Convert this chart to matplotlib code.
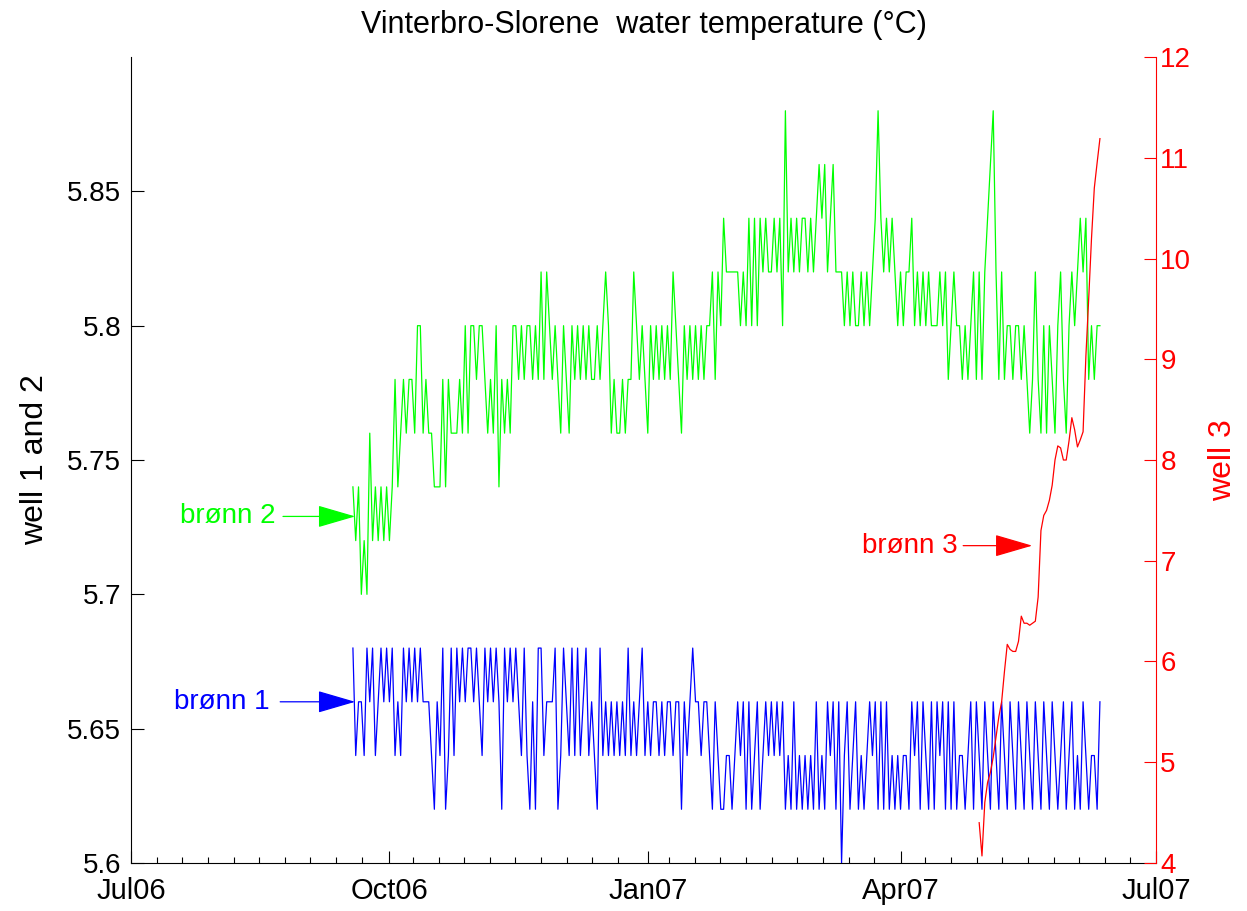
import numpy as np
import matplotlib.pyplot as plt
import matplotlib.dates as mdates

plt.rcParams['font.family'] = ['Liberation Sans', 'DejaVu Sans']

# daily readings, wells 1 and 2 start 18 Sep 2006
start12 = np.datetime64('2006-09-18')
well2 = [5.74, 5.72, 5.74, 5.70, 5.72, 5.70, 5.76, 5.72, 5.74, 5.72, 5.74, 5.72, 5.74, 5.72, 5.74,
         5.78, 5.74, 5.76,
         5.78, 5.76, 5.78, 5.78, 5.76, 5.80, 5.80, 5.76, 5.78, 5.76, 5.76,
         5.74, 5.74, 5.74, 5.78, 5.74, 5.78, 5.76, 5.76, 5.76,
         5.78, 5.76, 5.80, 5.76, 5.80, 5.80, 5.78, 5.80, 5.80, 5.78,
         5.76, 5.78, 5.76, 5.80, 5.74, 5.78, 5.76, 5.78, 5.76,
         5.80, 5.80, 5.78, 5.80, 5.78, 5.80, 5.80, 5.78, 5.80, 5.78,
         5.82, 5.78, 5.82,
         5.80, 5.78, 5.80, 5.78, 5.76, 5.80, 5.78, 5.76, 5.80, 5.78,
         5.80, 5.78, 5.80, 5.78, 5.80, 5.78, 5.78, 5.80, 5.78, 5.80,
         5.82, 5.80, 5.76, 5.78, 5.76, 5.76, 5.78, 5.76, 5.78, 5.78, 5.82,
         5.80, 5.78, 5.80, 5.78, 5.76, 5.80, 5.78, 5.80, 5.78, 5.80, 5.78, 5.80, 5.78, 5.82,
         5.80, 5.78, 5.76, 5.80, 5.78, 5.80, 5.78, 5.80, 5.78, 5.80, 5.78, 5.80, 5.80,
         5.82, 5.78, 5.82, 5.80, 5.84, 5.82, 5.82, 5.82, 5.82, 5.82,
         5.80, 5.82, 5.80, 5.84, 5.80, 5.84, 5.80, 5.84, 5.82, 5.84,
         5.82, 5.82, 5.84, 5.82, 5.84, 5.80, 5.88, 5.82,
         5.84, 5.82, 5.84, 5.82, 5.84, 5.84, 5.82, 5.84, 5.82, 5.84,
         5.86, 5.84, 5.86, 5.82, 5.84, 5.86, 5.82, 5.82, 5.82,
         5.80, 5.82, 5.80, 5.82, 5.80, 5.80, 5.82, 5.80, 5.82, 5.80, 5.82,
         5.84, 5.88, 5.84, 5.82, 5.84, 5.82, 5.84, 5.82,
         5.80, 5.82, 5.80, 5.82, 5.82, 5.84, 5.80, 5.82, 5.80, 5.82, 5.80, 5.82, 5.80, 5.80, 5.80, 5.82,
         5.80, 5.82, 5.78, 5.80, 5.82, 5.80, 5.80,
         5.78, 5.80, 5.78, 5.80, 5.82, 5.78, 5.82, 5.78, 5.82,
         5.84, 5.86, 5.88, 5.82, 5.78, 5.82, 5.78,
         5.80, 5.80, 5.78, 5.80, 5.80, 5.78, 5.80, 5.78, 5.76,
         5.78, 5.82, 5.78, 5.76, 5.80, 5.76, 5.80, 5.78, 5.76, 5.80, 5.82, 5.78, 5.76,
         5.80, 5.82, 5.80, 5.82, 5.84, 5.82, 5.84,
         5.78, 5.80, 5.78, 5.80, 5.80]

well1 = [5.68, 5.64, 5.66, 5.66, 5.64, 5.68, 5.66, 5.68, 5.64,
         5.66, 5.68, 5.66, 5.68, 5.66, 5.68, 5.64, 5.66, 5.64,
         5.68, 5.66, 5.68, 5.66, 5.68, 5.66, 5.68, 5.66, 5.66, 5.66,
         5.64, 5.62, 5.66, 5.64, 5.68, 5.62, 5.64, 5.68, 5.64, 5.68,
         5.66, 5.68, 5.66, 5.68, 5.68, 5.66, 5.68, 5.66, 5.64,
         5.68, 5.66, 5.68, 5.66, 5.68, 5.66, 5.62, 5.68, 5.66, 5.68, 5.66, 5.68, 5.66,
         5.64, 5.68, 5.64, 5.62, 5.66, 5.62, 5.68, 5.68, 5.64, 5.66, 5.66, 5.66,
         5.68, 5.62, 5.64, 5.68, 5.66, 5.64, 5.68, 5.64, 5.68, 5.64,
         5.66, 5.68, 5.64, 5.66, 5.64, 5.62, 5.68, 5.64, 5.66,
         5.64, 5.66, 5.64, 5.66, 5.64, 5.66, 5.64, 5.68, 5.64, 5.66,
         5.64, 5.66, 5.68, 5.64, 5.66, 5.64, 5.66, 5.66, 5.64, 5.66,
         5.64, 5.66, 5.66, 5.64, 5.66, 5.66, 5.62, 5.66, 5.64, 5.66,
         5.68, 5.66, 5.66, 5.64, 5.66, 5.66, 5.64, 5.62, 5.66, 5.64,
         5.62, 5.62, 5.64, 5.64, 5.62, 5.64, 5.66, 5.64,
         5.66, 5.62, 5.66, 5.62, 5.64, 5.66, 5.62, 5.64, 5.66, 5.64,
         5.66, 5.64, 5.66, 5.64, 5.66,
         5.62, 5.64, 5.62, 5.66, 5.62, 5.64, 5.62, 5.64, 5.62, 5.64, 5.62,
         5.66, 5.62, 5.64, 5.62, 5.66, 5.64, 5.66, 5.62, 5.66, 5.60,
         5.64, 5.66, 5.62, 5.64, 5.66, 5.62, 5.64, 5.62, 5.64, 5.66, 5.64,
         5.66, 5.62, 5.66, 5.62, 5.66, 5.62, 5.64, 5.62, 5.64, 5.62, 5.64, 5.64,
         5.62, 5.66, 5.64, 5.66, 5.62, 5.66, 5.64, 5.62, 5.66, 5.62, 5.66, 5.64,
         5.66, 5.62, 5.66, 5.62, 5.66, 5.62, 5.64, 5.64, 5.62, 5.64,
         5.66, 5.62, 5.66, 5.64, 5.62, 5.66, 5.64, 5.62, 5.66, 5.64,
         5.62, 5.66, 5.64, 5.62, 5.66, 5.64, 5.62, 5.66, 5.64, 5.62,
         5.66, 5.64, 5.62, 5.66, 5.64, 5.62, 5.66, 5.64, 5.62, 5.66,
         5.64, 5.62, 5.64, 5.66, 5.62, 5.64, 5.66, 5.62, 5.64, 5.62,
         5.66, 5.64, 5.62, 5.64, 5.64, 5.62, 5.66]

# well 3, daily from 29 Apr 2007
start3 = np.datetime64('2007-04-29')
well3 = [4.40, 4.07, 4.60, 4.80, 4.90, 5.05, 5.25, 5.45, 5.60, 5.90,
         6.17, 6.12, 6.10, 6.10, 6.20, 6.45, 6.38, 6.38, 6.36, 6.38,
         6.40, 6.64, 7.30, 7.45, 7.50, 7.60, 7.75, 8.00, 8.14, 8.12,
         8.00, 8.00, 8.19, 8.42, 8.30, 8.13, 8.20, 8.28, 9.03, 9.60,
         10.20, 10.70, 10.95, 11.19]

tick_dates = np.array(['2006-07-01', '2006-10-01', '2007-01-01', '2007-04-01', '2007-07-01'],
                      dtype='datetime64[D]')
tick_names = ['Jul06', 'Oct06', 'Jan07', 'Apr07', 'Jul07']
left_ticks = [5.6, 5.65, 5.7, 5.75, 5.8, 5.85]
left_names = ['5.6', '5.65', '5.7', '5.75', '5.8', '5.85']
right_ticks = list(range(4, 13))

t12 = start12 + np.arange(len(well2)) * np.timedelta64(1, 'D')
t3 = start3 + np.arange(len(well3)) * np.timedelta64(1, 'D')

fs = 20
fig = plt.figure(figsize=(12.47, 9.11), dpi=100)
ax1 = fig.add_axes([0.1051, 0.0527, 0.822, 0.8847])
ax1.plot(t12, well2, color=(0, 1, 0), lw=0.9)
ax1.plot(t12, well1, color=(0, 0, 1), lw=0.9)

ax2 = ax1.twinx()
ax2.plot(t3, well3, color=(1, 0, 0), lw=0.9)

major = mdates.date2num(tick_dates)
ax1.set_xlim(major[0], major[-1])
ax1.set_xticks(major)
ax1.set_xticklabels(tick_names)
minor = major[0] + np.arange(41) * 365 / 40
minor = [m for m in minor if np.min(np.abs(major - m)) > 3]
ax1.set_xticks(minor, minor=True)

ax1.set_ylim(5.6, 5.9)
ax1.set_yticks(left_ticks)
ax1.set_yticklabels(left_names)
ax2.set_ylim(4, 12)
ax2.set_yticks(right_ticks)

for s in ['top', 'right']:
    ax1.spines[s].set_visible(False)
for s in ['top', 'left', 'bottom']:
    ax2.spines[s].set_visible(False)
ax2.spines['right'].set_color('red')

ax1.tick_params(axis='y', which='major', direction='in', length=9, width=0.8,
                labelsize=fs, pad=7)
ax1.tick_params(axis='x', which='major', direction='in', length=9, width=0.8,
                labelsize=21, pad=10)
ax1.tick_params(axis='x', which='minor', direction='in', length=4.5, width=0.8)
ax2.tick_params(axis='y', direction='in', length=9, width=0.8, colors='red',
                labelsize=fs, pad=3)

ax1.set_ylabel('well 1 and 2', fontsize=23, labelpad=12)
ax2.set_ylabel('well 3', fontsize=23, color='red', labelpad=12)
ax1.set_title('Vinterbro-Slorene  water temperature (°C)', fontsize=22, pad=17)

d0 = major[0]
arrow = dict(arrowstyle='-|>,head_length=2.4,head_width=0.7', mutation_scale=10, lw=0.9,
             shrinkA=0, shrinkB=0)
ax1.text(d0 + 51.3, 5.729, 'brønn 2', color=(0, 1, 0), fontsize=fs, ha='right', va='center')
ax1.annotate('', xy=(d0 + 79.8, 5.729), xytext=(d0 + 54.1, 5.729),
             arrowprops=dict(arrow, color=(0, 1, 0)))
ax1.text(d0 + 49.5, 5.66, 'brønn 1', color=(0, 0, 1), fontsize=fs, ha='right', va='center')
ax1.annotate('', xy=(d0 + 79.8, 5.66), xytext=(d0 + 53.1, 5.66),
             arrowprops=dict(arrow, color=(0, 0, 1)))
ax2.text(d0 + 294.5, 7.15, 'brønn 3', color=(1, 0, 0), fontsize=fs, ha='right', va='center')
ax2.annotate('', xy=(d0 + 320.9, 7.15), xytext=(d0 + 296.3, 7.15),
             arrowprops=dict(arrow, color=(1, 0, 0)))

fig.savefig('out.png', dpi=100)
